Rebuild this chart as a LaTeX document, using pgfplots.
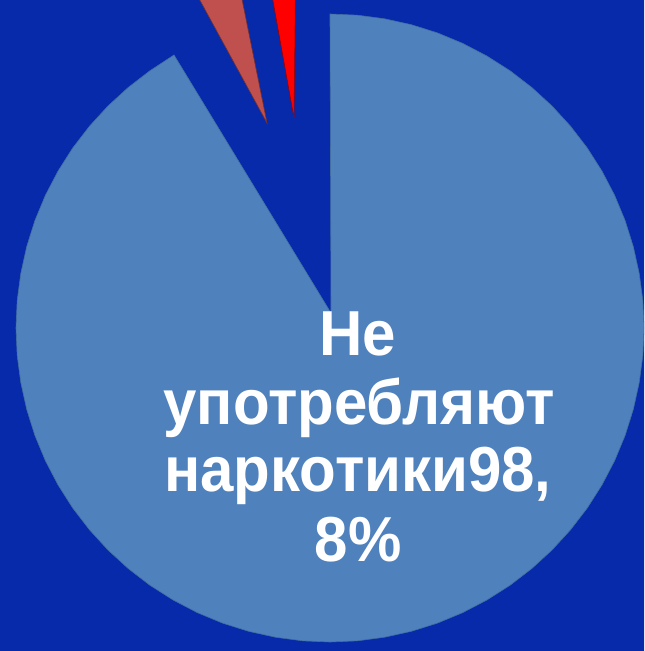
\documentclass[border=0pt]{standalone}
\usepackage{pgfplots}
\pgfplotsset{compat=1.18}
\usepackage{fontspec}
\setmainfont{Liberation Sans}
\definecolor{bgblue}{RGB}{6,42,170}
\definecolor{mainblue}{RGB}{79,129,189}
\definecolor{sliceb}{RGB}{192,80,77}
\definecolor{slicer}{RGB}{255,0,0}
\begin{document}
\begin{tikzpicture}
\begin{axis}[
  width=322pt, height=325.5pt, scale only axis,
  xmin=0, xmax=644, ymin=0, ymax=651, y dir=reverse,
  hide axis, clip=true,
]
% background
\addplot[fill=bgblue, draw=none] coordinates {(-5,-5) (650,-5) (650,660) (-5,660)} --cycle;
% main slice: Не употребляют наркотики 98,8%
\addplot[fill=mainblue, draw=mainblue!85!black, line width=0.3pt] coordinates {
(331,313) (330,14) (357.4,15.2) (384.5,18.8) (411.3,24.7) (437.4,32.9) (462.7,43.4)
(487.0,56.1) (510.1,70.8) (531.8,87.5) (552.0,106.0) (570.5,126.2) (587.2,147.9)
(601.9,171.0) (614.6,195.3) (625.1,220.6) (633.3,246.7) (639.2,273.5) (642.8,300.6)
(644,328) (642.8,355.4) (639.2,382.5) (633.3,409.3) (625.1,435.4) (614.6,460.7)
(601.9,485.0) (587.2,508.1) (570.5,529.8) (552.0,550.0) (531.8,568.5) (510.1,585.2)
(487.0,599.9) (462.7,612.6) (437.4,623.1) (411.3,631.3) (384.5,637.2) (357.4,640.8)
(330,642) (302.6,640.8) (275.5,637.2) (248.7,631.3) (222.6,623.1) (197.3,612.6)
(173.0,599.9) (149.9,585.2) (128.2,568.5) (108.0,550.0) (89.5,529.8) (72.8,508.1)
(58.1,485.0) (45.4,460.7) (34.9,435.4) (26.7,409.3) (20.8,382.5) (17.2,355.4)
(16,328) (17.2,300.6) (20.8,273.5) (26.7,246.7) (34.9,220.6) (45.4,195.3)
(58.1,171.0) (72.8,147.9) (89.5,126.2) (108.0,106.0) (128.2,87.5) (149.9,70.8)
(174,55)} --cycle;
% exploded small slices
\addplot[fill=sliceb, draw=sliceb!60!black, line width=0.3pt] coordinates {(267,123) (230,-60) (167,-60)} --cycle;
\addplot[fill=slicer, draw=slicer!60!black, line width=0.3pt] coordinates {(294,118) (296,-60) (262,-60)} --cycle;
% label
\begin{scope}[every node/.style={text=white, font=\bfseries\fontsize{30}{34}\selectfont, anchor=base, inner sep=0pt, yscale=1.06}]
\node at (axis cs:358,355) {Не};
\node at (axis cs:359,424) {употребляют};
\node at (axis cs:358,491) {наркотики98,};
\node at (axis cs:358,561) {8\%};
\end{scope}
\end{axis}
\end{tikzpicture}
\end{document}
